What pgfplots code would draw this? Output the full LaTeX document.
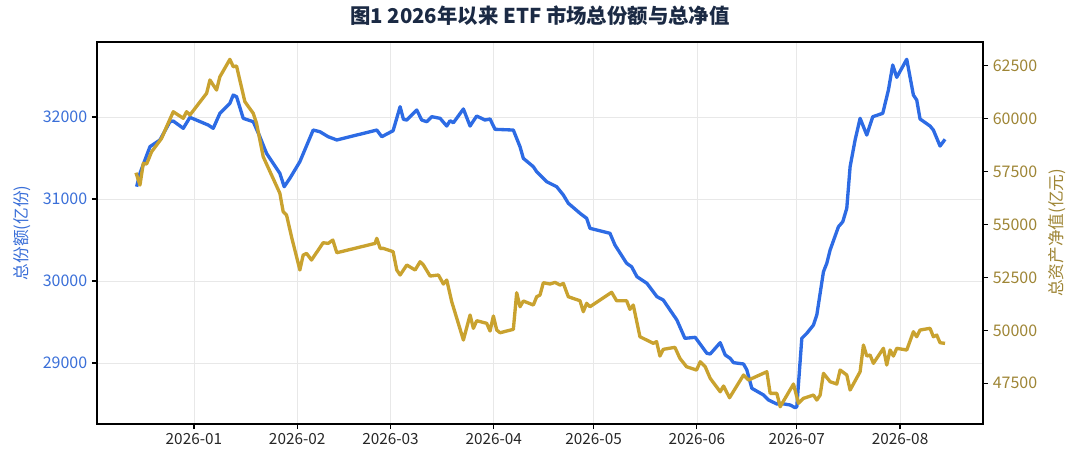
\documentclass[border=0pt]{standalone}
\usepackage{fontspec}
\setmainfont{Noto Sans CJK SC}
\usepackage{pgfplots}
\pgfplotsset{compat=1.18}
\definecolor{cblue}{HTML}{2D6BE4}
\definecolor{cgold}{HTML}{C9A22F}
\definecolor{cgoldtxt}{HTML}{9E8535}
\definecolor{cbluetxt}{HTML}{3A6FD8}
\definecolor{ctitle}{HTML}{1B2A44}

\pgfplotstableread{
x y
-17.2 31150
-16.2 31313
-14.7 31476
-13.2 31638
-10.2 31720
-7.2 31943
-6.2 31951
-3.2 31862
-1.2 31996
4.3 31902
5.8 31862
7.8 32045
10.8 32167
11.8 32268
12.8 32248
14.8 31984
17.8 31943
19.8 31760
21.8 31557
25.8 31313
27.1 31150
28.8 31252
31.8 31455
35.8 31841
37.8 31821
40.3 31760
42.9 31720
54.9 31841
56.4 31760
59.8 31833
61.9 32126
62.9 31972
63.9 31963
66.9 32085
68.4 31963
69.9 31943
71.4 32004
73.9 31984
75.9 31890
76.9 31955
77.9 31930
80.9 32098
82.9 31890
84.9 32012
87.4 31963
88.9 31976
90.4 31850
95.9 31841
97.9 31638
98.9 31496
101.9 31394
102.9 31333
105.9 31211
108.9 31150
110.9 31049
112.4 30948
115.9 30826
117.9 30765
118.9 30643
124.9 30582
126.4 30439
129.9 30216
131.4 30174
133 30053
136 29972
139 29809
140.9 29768
145 29524
147.4 29301
150.5 29313
154 29118
155 29110
158 29248
159.5 29098
161 29057
162 29004
165 28988
166 28915
167.5 28691
171 28610
172.5 28549
175 28500
176 28508
179 28488
180.5 28455
181 28467
182.5 29301
184 29362
186 29463
187 29585
189 30113
190 30216
191 30378
193.5 30662
194.8 30723
196 30887
197 31394
198.5 31720
200 31984
202 31780
203.8 32004
206.8 32045
208.5 32329
209.8 32634
211 32484
214 32704
216 32268
217 32207
218 31976
221 31890
222 31841
224 31646
225.5 31728
}\sharetable

\pgfplotstableread{
x y
-17.4 57446
-16.7 57101
-16.2 56865
-15.2 57890
-14.2 57857
-12.7 58438
-9.7 59071
-8.2 59619
-6.2 60327
-3.2 60015
-2.2 60327
-1.2 60171
3.8 61196
4.8 61825
6.8 61352
7.8 61980
10.8 62802
11.8 62453
12.8 62486
13.3 62141
15.3 60799
17.8 60252
18.8 59779
20.8 58202
25.8 56473
26.8 55603
27.8 55448
29.3 54422
31.8 52850
32.8 53558
33.8 53637
35.3 53322
38.8 54139
40.3 54108
41.7 54265
42.9 53666
54.4 54108
54.9 54347
55.9 53874
56.8 53874
59.8 53716
60.9 52850
61.9 52614
63.9 53087
66.4 52850
67.9 53242
68.9 53087
70.9 52566
73.4 52614
74.9 52188
75.9 52377
77.4 51352
80.9 49543
82.9 50724
83.9 50096
84.9 50455
87.9 50332
88.9 49968
89.9 50677
90.9 50016
91.9 49888
95.9 50048
96.9 51777
97.9 51116
98.9 51387
101.9 51196
102.9 51588
103.9 51668
104.9 52250
106.9 52188
108.4 52268
109.9 52141
110.9 52221
112.4 51588
115.9 51399
116.9 50880
117.9 51277
118.9 51116
125.4 51797
126.9 51399
129.9 51399
130.9 50993
131.9 51196
133.9 49699
137.9 49387
138.9 49465
139.9 48787
140.9 49104
144.4 49198
145.9 48678
147.9 48281
150.9 48126
152 48518
153.5 48281
155 47734
158 47101
159 47371
160.8 46817
165 47890
166.5 47654
172 48046
173 47025
175 47025
176 46392
180 47465
181.5 46553
183 46789
186 46944
187 46708
188 46944
189 47970
191 47574
193 47465
194 48126
196 47890
197 47182
200 48046
201 49307
202 48787
203 48835
204 48442
207 49151
208 48362
209 49071
210 48787
211 49151
214 49071
216 49935
217 49699
218 50016
221 50096
222 49699
223 49778
224 49416
225.5 49385
}\navtable

\begin{document}
\begin{tikzpicture}
\pgfplotsset{
  common/.style={
    at={(0pt,0pt)}, anchor=south west,
    scale only axis, width=664.5pt, height=286.5pt,
    xmin=-29.1, xmax=236.9,
    scaled y ticks=false,
    tick align=outside,
    major tick length=3.8pt,
    axis line style={black, line width=1.1pt},
    tick style={black, line width=0.9pt},
    yticklabel style={font=\fontsize{12}{14}\selectfont},
    xticklabel style={font=\fontsize{11.5}{13}\selectfont},
    /pgf/number format/1000 sep={},
    /pgf/number format/assume math mode=true,
  }
}
\begin{axis}[common,
  ymin=28256, ymax=32915,
  xtick={0,31,59,90,120,151,181,212},
  xticklabels={2026-01,2026-02,2026-03,2026-04,2026-05,2026-06,2026-07,2026-08},
  ytick={29000,30000,31000,32000},
  xtick pos=bottom, ytick pos=left,
  grid=major, major grid style={black!9, line width=0.5pt},
  yticklabel style={text=cbluetxt},
  xticklabel style={text=black!85},
  ylabel={总份额(亿份)},
  ylabel style={at={(axis description cs:-0.0847,0.5)}, anchor=center, rotate=0, text=cbluetxt, font=\fontsize{12.5}{14}\selectfont},
  title={\textbf{图1 2026年以来 ETF 市场总份额与总净值}},
  title style={at={(axis description cs:0.5,1.047)}, anchor=center, text=ctitle, font=\fontsize{15.3}{18}\selectfont},
]
\addplot[cblue, line width=2.5pt, line join=round] table[x=x,y=y] {\sharetable};
\end{axis}
\begin{axis}[common,
  ymin=45577, ymax=63620,
  axis x line=none,
  axis y line*=right,
  ytick={47500,50000,52500,55000,57500,60000,62500},
  ytick pos=right,
  yticklabel style={text=cgoldtxt},
  ylabel={总资产净值(亿元)},
  ylabel style={at={(axis description cs:1.0835,0.5)}, anchor=center, rotate=0, text=cgoldtxt, font=\fontsize{12.5}{14}\selectfont},
]
\addplot[cgold, line width=2.5pt, line join=round] table[x=x,y=y] {\navtable};
\end{axis}
\pgfresetboundingbox
\path[use as bounding box] (-72.75pt,-32.25pt) rectangle (737.25pt,318pt);
\end{tikzpicture}
\end{document}
